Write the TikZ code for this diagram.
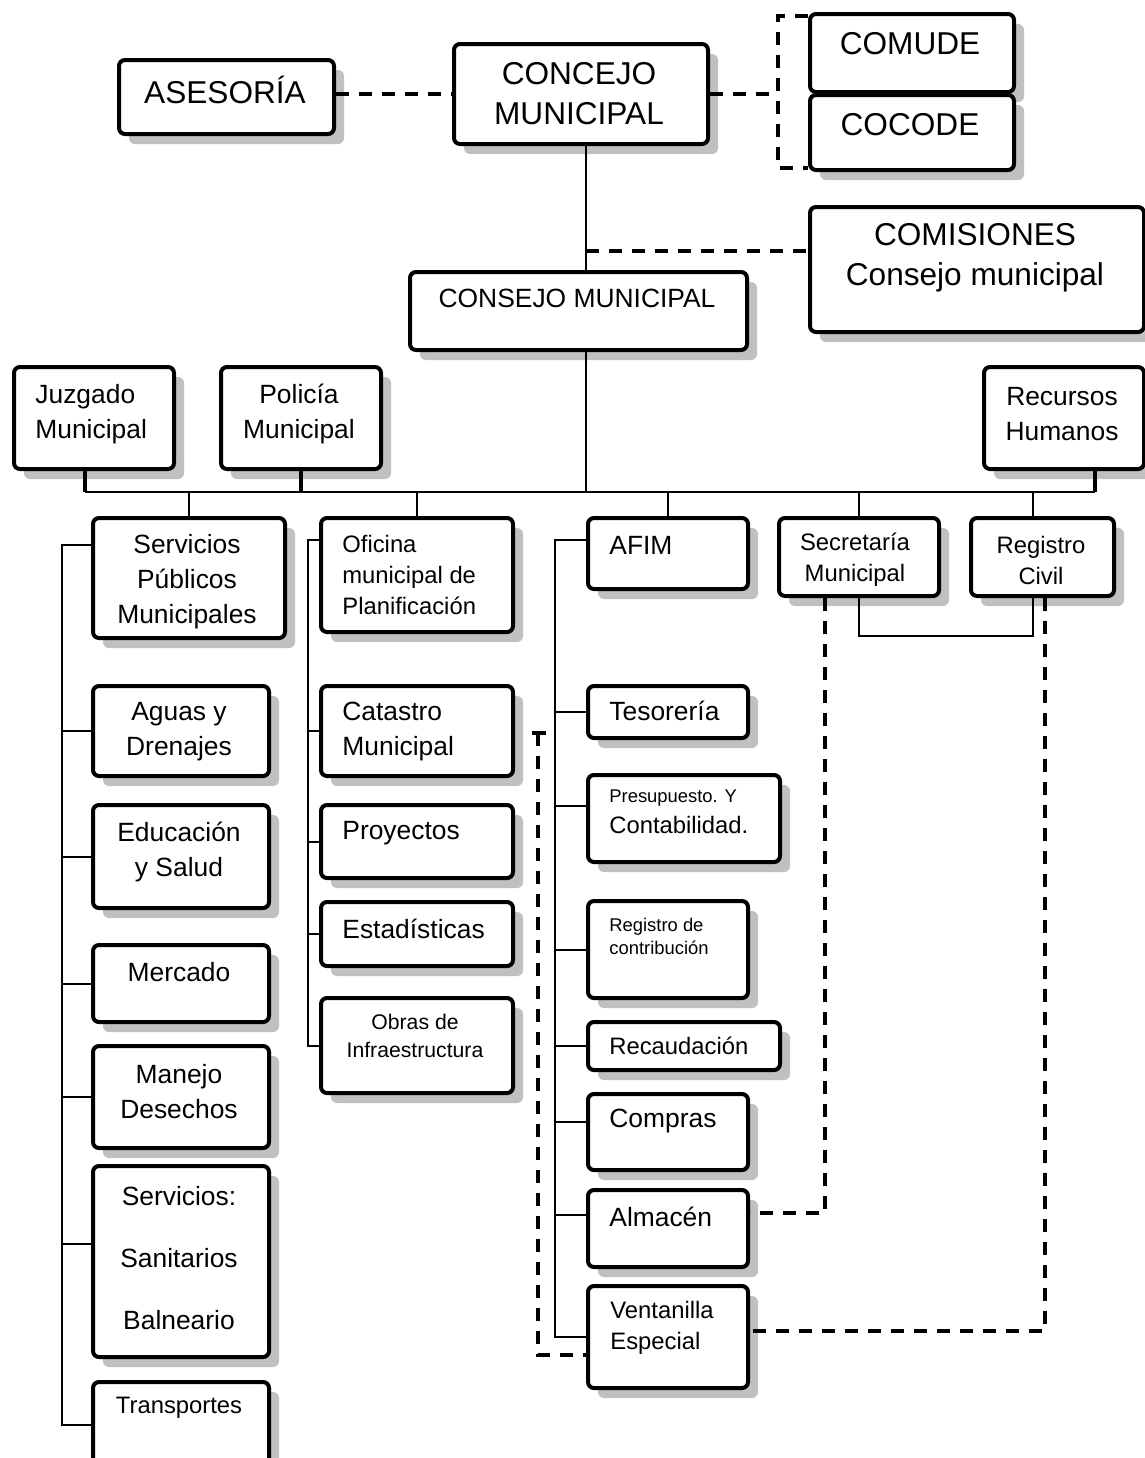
\documentclass[tikz,border=0pt]{standalone}
\usepackage{fontspec}
\setmainfont{Liberation Sans}
\usetikzlibrary{shadows}
\definecolor{sombra}{RGB}{192,192,192}

\tikzset{
  caja/.style={draw, line width=2pt, rounded corners=3pt, fill=white, anchor=north west, inner sep=0pt,
    drop shadow={shadow xshift=5pt, shadow yshift=-5pt, fill=sombra, opacity=1}},
  medida/.style 2 args={minimum width=#1*0.5pt, minimum height=#2*0.5pt},
  txt/.style={inner sep=0pt},
  grande/.style={txt, align=center, font=\fontsize{15.8pt}{20pt}\selectfont},
  medio/.style={txt, align=center, font=\fontsize{13.2pt}{17.5pt}\selectfont},
  chico/.style={txt, align=center, font=\fontsize{11.9pt}{15.5pt}\selectfont},
  mini/.style={txt, align=center, font=\fontsize{10.6pt}{14pt}\selectfont},
  micro/.style={txt, align=center, font=\fontsize{9.2pt}{11.5pt}\selectfont},
  izq/.style={anchor=west, align=left},
  linea/.style={line width=1pt},
  grueso/.style={line width=2pt},
  guion/.style={line width=2pt, dash pattern=on 6.5pt off 5pt},
}

\begin{document}
\begin{tikzpicture}[x=0.5pt,y=-0.5pt]
\useasboundingbox (0,0) rectangle (1145,1458);

% cabeza
\node [caja,medida={215}{74}] (asesoria) at (117,58) {};
\node [caja,medida={254}{100}] (concejo) at (452,42) {};
\node [caja,medida={204}{78}] (comude) at (808,12) {};
\node [caja,medida={204}{75}] (cocode) at (808,93) {};
\node [caja,medida={334}{125}] (comisiones) at (808,205) {};
\node [caja,medida={337}{78}] (consejo) at (408,270) {};
\node [grande] (asesoria-t) at (225,90) {ASESORÍA};
\node [grande] (concejo-t) at (579,94) {CONCEJO\\MUNICIPAL};
\node [grande] (comude-t) at (910,44) {COMUDE};
\node [grande] (cocode-t) at (910,125) {COCODE};
\node [grande] (comisiones-t) at (975,258) {COMISIONES\\Consejo municipal};
\node [medio] (consejo-t) at (577,298) {CONSEJO MUNICIPAL};

% segundo nivel
\node [caja,medida={160}{102}] (juzgado) at (12,365) {};
\node [caja,medida={160}{102}] (policia) at (219,365) {};
\node [caja,medida={160}{102}] (recursos) at (982,365) {};
\node [medio,izq] (juzgado-t) at (35,414) {Juzgado\\Municipal};
\node [medio] (policia-t) at (299,414) {Policía\\Municipal};
\node [medio] (recursos-t) at (1062,414) {Recursos\\Humanos};

\node [caja,medida={192}{120}] (servicios) at (91,516) {};
\node [caja,medida={192}{114}] (oficina) at (319,516) {};
\node [caja,medida={160}{71}] (afim) at (586,516) {};
\node [caja,medida={160}{78}] (secretaria) at (777,516) {};
\node [caja,medida={143}{78}] (registro) at (969,516) {};
\node [medio] (servicios-t) at (187,582) {Servicios\\Públicos\\Municipales};
\node [chico,izq] (oficina-t) at (342,575) {Oficina\\municipal de\\Planificación};
\node [medio,izq] (afim-t) at (609,545) {AFIM};
\node [chico] (secretaria-t) at (855,560) {Secretaría\\Municipal};
\node [chico] (registro-t) at (1041,560) {Registro\\Civil};

% servicios publicos
\node [caja,medida={176}{90}] (aguas) at (91,684) {};
\node [caja,medida={176}{103}] (educacion) at (91,803) {};
\node [caja,medida={176}{77}] (mercado) at (91,943) {};
\node [caja,medida={176}{102}] (manejo) at (91,1044) {};
\node [caja,medida={176}{191}] (sanitarios) at (91,1164) {};
\node [caja,medida={176}{85}] (transportes) at (91,1380) {};
\node [medio] (aguas-t) at (179,732) {Aguas y\\Drenajes};
\node [medio] (educacion-t) at (179,852) {Educación\\y Salud};
\node [medio] (mercado-t) at (179,972) {Mercado};
\node [medio] (manejo-t) at (179,1092) {Manejo\\Desechos};
\node [medio] (sanitarios-t) at (179,1258) {Servicios:\\[13.5pt]Sanitarios\\[13.5pt]Balneario};
\node [chico] (transportes-t) at (179,1408) {Transportes};

% planificacion
\node [caja,medida={192}{90}] (catastro) at (319,684) {};
\node [caja,medida={192}{73}] (proyectos) at (319,803) {};
\node [caja,medida={192}{64}] (estadisticas) at (319,900) {};
\node [caja,medida={192}{95}] (obras) at (319,996) {};
\node [medio,izq] (catastro-t) at (342,732) {Catastro\\Municipal};
\node [medio,izq] (proyectos-t) at (342,833) {Proyectos};
\node [medio,izq] (estadisticas-t) at (342,929) {Estadísticas};
\node [mini] (obras-t) at (415,1036) {Obras de\\Infraestructura};

% afim
\node [caja,medida={160}{52}] (tesoreria) at (586,684) {};
\node [caja,medida={192}{87}] (presupuesto) at (586,773) {};
\node [caja,medida={160}{97}] (contribucion) at (586,899) {};
\node [caja,medida={192}{48}] (recaudacion) at (586,1020) {};
\node [caja,medida={160}{76}] (compras) at (586,1092) {};
\node [caja,medida={160}{77}] (almacen) at (586,1188) {};
\node [caja,medida={160}{102}] (ventanilla) at (586,1284) {};
\node [medio,izq] (tesoreria-t) at (609,711) {Tesorería};
\node [chico,izq] (presupuesto-t) at (609,812) {{\fontsize{9.2pt}{11.5pt}\selectfont Presupuesto. Y}\\Contabilidad.};
\node [micro,izq] (contribucion-t) at (609,936) {Registro de\\contribución};
\node [chico,izq] (recaudacion-t) at (609,1046) {Recaudación};
\node [medio,izq] (compras-t) at (609,1121) {Compras};
\node [medio,izq] (almacen-t) at (609,1217) {Almacén};
\node [chico,izq] (ventanilla-t) at (610,1328) {Ventanilla\\Especial};

% puntos de las lineas
\coordinate (eje) at (586,251);
\coordinate (c1) at (778,16);
\coordinate (c2) at (778,168);
\coordinate (j1) at (85,492);
\coordinate (r1) at (1095,492);
\coordinate (sr) at (1033,636);
\coordinate (s3) at (825,1213);
\coordinate (v3) at (1045,1331);
\coordinate (s0) at (62,545);
\coordinate (p0) at (308,540);
\coordinate (a0) at (555,540);
\coordinate (d0) at (538,733);
\coordinate (d1) at (538,1355);

% lineas de arriba
\draw [guion] (asesoria.east |- concejo.west) -- (concejo.west);
\draw [guion] (concejo.east) -- (concejo.east -| c1);
\draw [guion] (c1 -| comude.west) -- (c1) -- (c2) -- (c2 -| cocode.west);
\draw [linea] (concejo.south -| eje) -- (consejo.north -| eje);
\draw [guion] (eje) -- (eje -| comisiones.west);
\draw [linea] (consejo.south -| eje) -- (eje |- j1);
\draw [linea] (j1) -- (r1);
\draw [grueso] (juzgado.south -| j1) -- (j1);
\draw [grueso] (policia.south) -- (policia.south |- j1);
\draw [grueso] (recursos.south -| r1) -- (r1);
\foreach \n in {servicios,oficina,afim,secretaria}
  \draw [linea] (\n.north) -- (\n.north |- j1);
\draw [linea] (registro.north -| sr) -- (sr |- j1);
\draw [linea] (secretaria.south) |- (sr) -- (sr |- registro.south);

% lineas punteadas
\draw [guion] (s3 |- secretaria.south) -- (s3) -- (s3 -| almacen.east);
\draw [guion] (v3 |- registro.south) -- (v3) -- (v3 -| ventanilla.east);
\draw [guion] (d0) -- (d1) -- (d1 -| ventanilla.west);
\draw [grueso] ([xshift=-3pt]d0) -- ([xshift=4pt]d0);

% ramas
\draw [linea] (s0 -| servicios.west) -- (s0) -- (s0 |- transportes.west) -- (transportes.west);
\foreach \n/\d in {aguas/0pt,educacion/0pt,mercado/0pt,manejo/0pt,sanitarios/8.75pt}
  \draw [linea] ([yshift=\d]\n.west) coordinate (tmp) -- (tmp -| s0);
\draw [linea] (p0 -| oficina.west) -- (p0) -- (p0 |- obras.west) -- (obras.west);
\foreach \n in {catastro,proyectos,estadisticas}
  \draw [linea] (\n.west) -- (\n.west -| p0);
\draw [linea] (a0 -| afim.west) -- (a0) -- (a0 |- ventanilla.west) -- (ventanilla.west);
\foreach \n/\d in {tesoreria/0pt,presupuesto/6.25pt,contribucion/0pt,recaudacion/0pt,compras/5pt,almacen/6.75pt}
  \draw [linea] ([yshift=\d]\n.west) coordinate (tmp) -- (tmp -| a0);
\end{tikzpicture}
\end{document}
